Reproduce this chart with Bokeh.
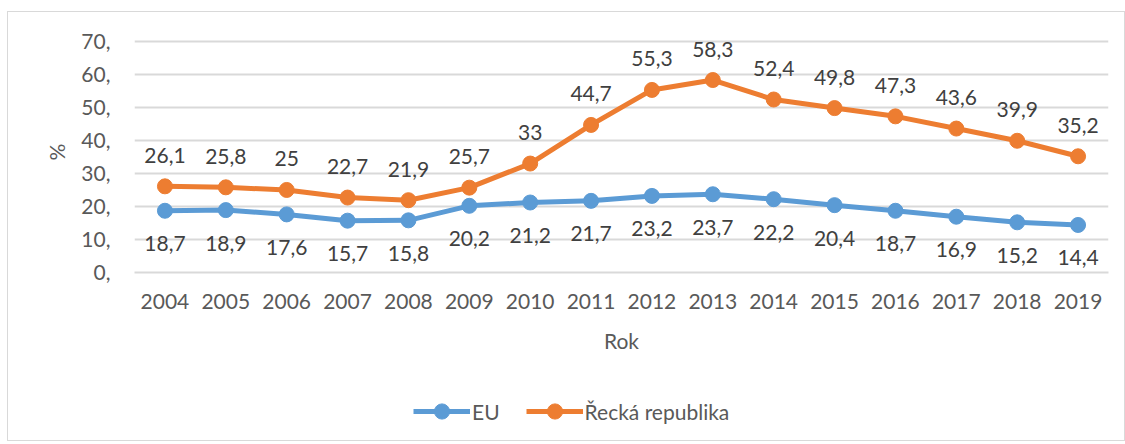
from bokeh.plotting import figure
from bokeh.layouts import column
from bokeh.models import FactorRange, Range1d, FixedTicker, Legend, LegendItem, ColumnDataSource
from bokeh.core.properties import value
from bokeh.embed import file_html
from bokeh.resources import INLINE

years = [str(y) for y in range(2004, 2020)]
eu = [18.7, 18.9, 17.6, 15.7, 15.8, 20.2, 21.2, 21.7, 23.2, 23.7, 22.2, 20.4, 18.7, 16.9, 15.2, 14.4]
gr = [26.1, 25.8, 25, 22.7, 21.9, 25.7, 33, 44.7, 55.3, 58.3, 52.4, 49.8, 47.3, 43.6, 39.9, 35.2]
y_ticks = [0, 10, 20, 30, 40, 50, 60, 70]
y_tick_labels = ["0,", "10,", "20,", "30,", "40,", "50,", "60,", "70,"]
series_names = ["EU", "Řecká republika"]


def fmt(v):
    return str(int(v)) if float(v).is_integer() else str(v).replace(".", ",")


FONT = "Lato"
FS = "21px"
BLUE = "#5B9BD5"
ORANGE = "#ED7D31"
W = 1116

p = figure(width=W, height=362, output_backend="svg", toolbar_location=None,
           x_range=FactorRange(*years, range_padding=0), y_range=Range1d(0, 73),
           min_border_left=126, min_border_right=16, min_border_top=19, min_border_bottom=102)
p.outline_line_color = None
p.background_fill_color = "white"
p.border_fill_color = "white"

src = ColumnDataSource(dict(x=years, eu=eu, gr=gr,
                            eul=[fmt(v) for v in eu], grl=[fmt(v) for v in gr]))

p.line("x", "eu", source=src, line_color=BLUE, line_width=5)
p.scatter("x", "eu", source=src, size=15, fill_color=BLUE, line_color=BLUE)
p.line("x", "gr", source=src, line_color=ORANGE, line_width=5)
p.scatter("x", "gr", source=src, size=15, fill_color=ORANGE, line_color=ORANGE)

p.text("x", "eu", text="eul", source=src, text_align="center", text_baseline="middle",
       y_offset=33, text_font=value(FONT), text_font_size=FS, text_color="#404040")
p.text("x", "gr", text="grl", source=src, text_align="center", text_baseline="middle",
       y_offset=-31, text_font=value(FONT), text_font_size=FS, text_color="#404040")

# axes
p.yaxis.ticker = FixedTicker(ticks=y_ticks)
p.yaxis.major_label_overrides = {t: l for t, l in zip(y_ticks, y_tick_labels)}
for ax in (p.xaxis[0], p.yaxis[0]):
    ax.major_tick_line_color = None
    ax.minor_tick_line_color = None
    ax.major_label_text_font = FONT
    ax.major_label_text_font_size = FS
    ax.major_label_text_color = "#595959"
    ax.axis_label_text_font = FONT
    ax.axis_label_text_font_size = FS
    ax.axis_label_text_color = "#595959"
    ax.axis_label_text_font_style = "normal"
p.yaxis.axis_line_color = None
p.xaxis.axis_line_color = "#D9D9D9"
p.xaxis.axis_line_width = 2
p.yaxis.axis_label = "%"
p.xaxis.axis_label = "Rok"
p.yaxis.major_label_standoff = 18
p.yaxis.axis_label_standoff = 9
p.xaxis.major_label_standoff = 15
p.xaxis.axis_label_standoff = 16

p.xgrid.grid_line_color = None
p.ygrid.grid_line_color = "#D9D9D9"
p.ygrid.grid_line_width = 2
p.ygrid.ticker = FixedTicker(ticks=y_ticks)

# legend strip
lg = figure(width=W, height=66, output_backend="svg", toolbar_location=None,
            x_range=Range1d(0, 1), y_range=Range1d(0, 1), x_axis_type=None, y_axis_type=None,
            min_border=0)
lg.outline_line_color = None
lg.grid.grid_line_color = None
lg.border_fill_color = "white"
e1 = lg.line(x=[-5, -4], y=[-5, -4], line_color=BLUE, line_width=5)
e2 = lg.scatter(x=[-5], y=[-5], size=15, fill_color=BLUE, line_color=BLUE)
o1 = lg.line(x=[-5, -4], y=[-5, -4], line_color=ORANGE, line_width=5)
o2 = lg.scatter(x=[-5], y=[-5], size=15, fill_color=ORANGE, line_color=ORANGE)
legend = Legend(items=[LegendItem(label=series_names[0], renderers=[e1, e2]),
                       LegendItem(label=series_names[1], renderers=[o1, o2])],
                orientation="horizontal", location=(279, 10),
                glyph_width=57, glyph_height=38, label_height=38, label_standoff=2, spacing=26,
                padding=0, margin=0, border_line_color=None, background_fill_alpha=0,
                label_text_font=FONT, label_text_font_size=FS, label_text_color="#595959")
lg.add_layout(legend, "center")

layout = column(p, lg, spacing=0)
layout.styles = {"border": "1px solid #D9D9D9", "margin-left": "7px", "margin-top": "11px"}

open("out.html", "w").write(file_html(layout, INLINE))
